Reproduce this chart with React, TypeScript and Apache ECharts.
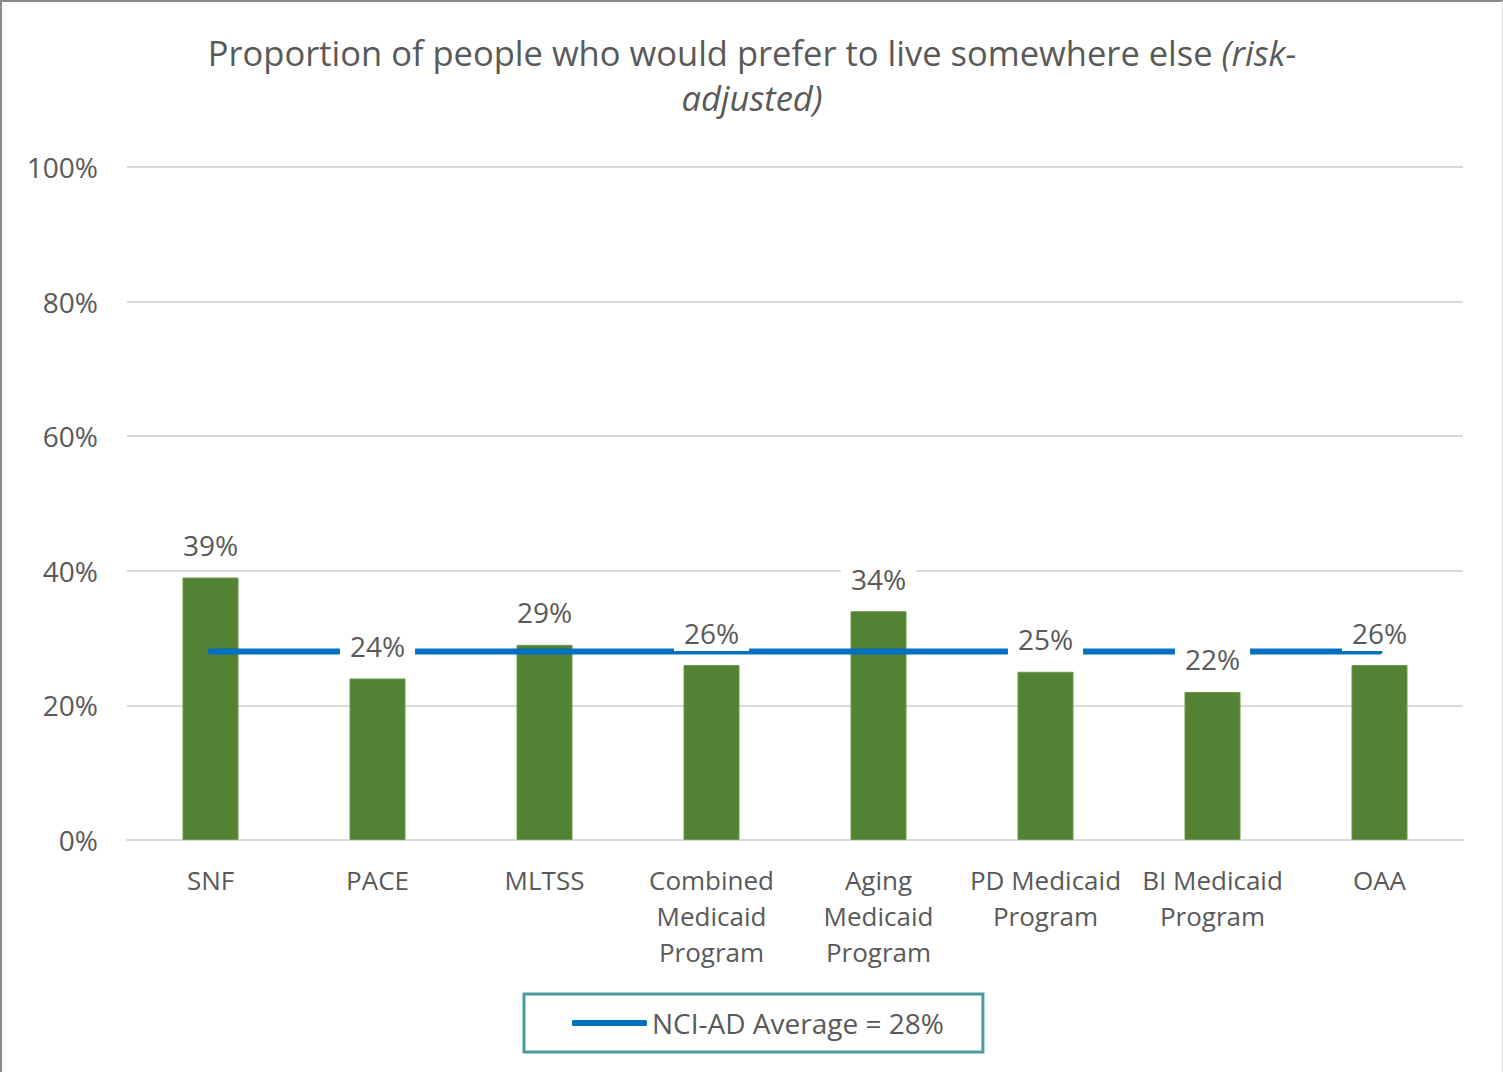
import React, { useEffect, useRef } from "react";
import * as echarts from "echarts";

const categories = [
  "SNF",
  "PACE",
  "MLTSS",
  "Combined\nMedicaid\nProgram",
  "Aging\nMedicaid\nProgram",
  "PD Medicaid\nProgram",
  "BI Medicaid\nProgram",
  "OAA",
];
const programValues = [39, 24, 29, 26, 34, 25, 22, 26];
const averageValues = [28, 28, 28, 28, 28, 28, 28, 28];
const averageName = "NCI-AD Average = 28%";
const yTicks = [0, 20, 40, 60, 80, 100];
const titleLine1 = "Proportion of people who would prefer to live somewhere else {i|(risk-}";
const titleLine2 = "{i|adjusted)}";

const FONT = "'Open Sans', 'DejaVu Sans', sans-serif";
const GRAY = "#595959";

const titleStyle = {
  fontFamily: FONT,
  fontSize: 34.5,
  fontWeight: "normal",
  color: GRAY,
  rich: {
    i: { fontFamily: FONT, fontSize: 34.5, fontStyle: "italic", color: GRAY },
  },
};

export default function App() {
  const ref = useRef<HTMLDivElement>(null);
  useEffect(() => {
    document.body.style.margin = "0";
    const chart = echarts.init(ref.current!, null, { renderer: "svg" });
    chart.setOption({
      animation: false,
      backgroundColor: "#ffffff",
      textStyle: { fontFamily: FONT },
      title: [
        { text: titleLine1, left: "center", top: 33, padding: 0, textStyle: titleStyle },
        { text: titleLine2, left: "center", top: 78, padding: 0, textStyle: titleStyle },
      ],
      grid: { left: 125, right: 39, top: 165, bottom: 232, containLabel: false },
      legend: {
        data: [averageName],
        bottom: 20,
        left: 522,
        icon: "roundRect",
        itemWidth: 75,
        itemHeight: 6,
        itemGap: 0,
        padding: [11, 39, 11, 48],
        borderColor: "#4a9aa0",
        borderWidth: 3,
        textStyle: { fontFamily: FONT, fontSize: 28, color: GRAY, lineHeight: 36 },
      },
      xAxis: {
        type: "category",
        data: categories,
        axisLine: { show: true, lineStyle: { color: "#d9d9d9", width: 2 } },
        axisTick: { show: false },
        axisLabel: {
          interval: 0,
          margin: 22,
          fontFamily: FONT,
          fontSize: 26,
          color: GRAY,
          lineHeight: 36,
        },
      },
      yAxis: {
        type: "value",
        min: yTicks[0],
        max: yTicks[yTicks.length - 1],
        interval: 20,
        axisLine: { show: false },
        axisTick: { show: false },
        splitLine: { lineStyle: { color: "#d9d9d9", width: 2 } },
        axisLabel: {
          formatter: "{value}%",
          margin: 29,
          fontFamily: FONT,
          fontSize: 28,
          color: GRAY,
        },
      },
      series: [
        {
          name: "Programs",
          type: "bar",
          data: programValues,
          barWidth: 56,
          z: 2,
          itemStyle: { color: "#548235", borderColor: "#6a9a4a", borderWidth: 1 },
        },
        {
          name: averageName,
          type: "line",
          data: averageValues,
          z: 3,
          symbol: "none",
          showSymbol: false,
          lineStyle: { color: "#0070c0", width: 6, cap: "round" },
          itemStyle: { color: "#0070c0" },
        },
        {
          name: "Labels",
          type: "bar",
          data: programValues,
          barWidth: 56,
          barGap: "-100%",
          z: 4,
          itemStyle: { color: "rgba(0,0,0,0)" },
          label: {
            show: true,
            position: "top",
            distance: 14,
            formatter: "{c}%",
            fontFamily: FONT,
            fontSize: 28,
            color: GRAY,
            lineHeight: 31,
            backgroundColor: "#ffffff",
            padding: [3, 10, 3, 10],
          },
        },
      ],
    });
    return () => chart.dispose();
  }, []);
  return (
    <div
      ref={ref}
      style={{
        width: 1503,
        height: 1072,
        boxSizing: "border-box",
        borderTop: "2px solid #8c8c8c",
        borderLeft: "2px solid #8c8c8c",
        borderRight: "1px solid #e0e0e0",
      }}
    />
  );
}
